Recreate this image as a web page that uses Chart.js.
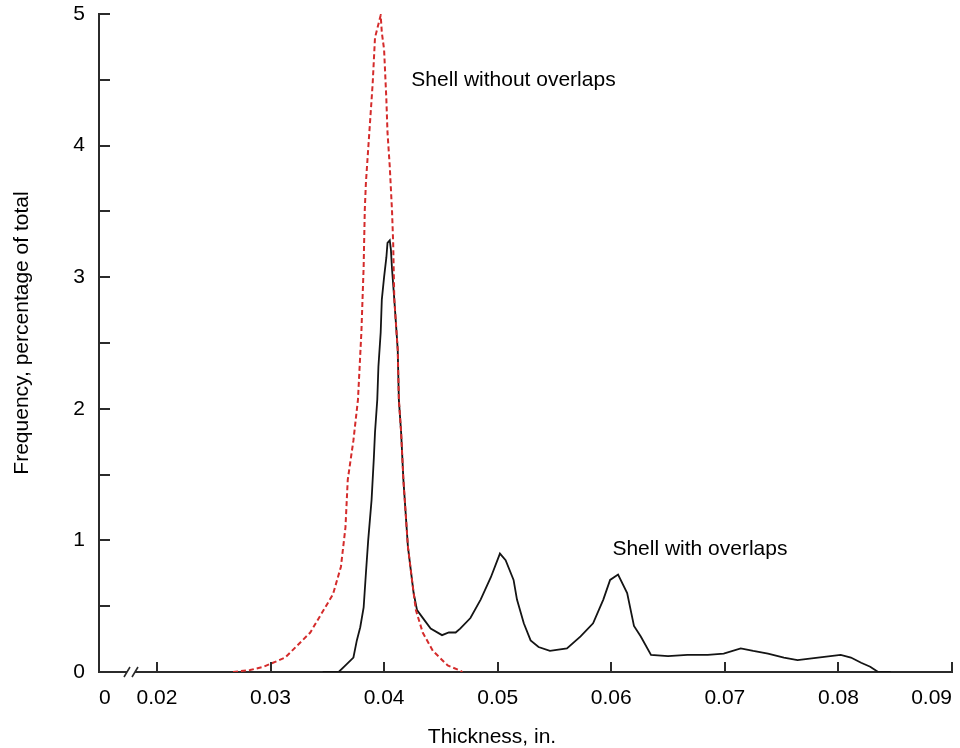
<!DOCTYPE html>
<html>
<head>
<meta charset="utf-8">
<title>Shell thickness frequency</title>
<script src="https://cdn.jsdelivr.net/npm/chart.js@4.4.1/dist/chart.umd.min.js"></script>
<style>
    body { margin: 0; background: #fff; }
    canvas { display: block; }
</style>
</head>
<body>
<canvas id="myChart" width="960" height="748"></canvas>
<script>
// shell without overlaps (red dashed)
const thicknessNoOverlap = [0.0267, 0.0282, 0.0294, 0.0313, 0.0335, 0.0355, 0.0362, 0.0366, 0.0368, 0.0373, 0.0377, 0.0380, 0.0382, 0.0383, 0.0384, 0.0387, 0.0389, 0.0390, 0.0392, 0.0397, 0.0398, 0.0400, 0.0402, 0.0403, 0.0405, 0.0407, 0.0408, 0.0409, 0.0412, 0.0413, 0.0415, 0.0417, 0.0421, 0.0426, 0.0428, 0.0434, 0.0443, 0.0456, 0.0467, 0.0469];
const freqNoOverlap = [0, 0.015, 0.04, 0.11, 0.30, 0.59, 0.80, 1.10, 1.46, 1.76, 2.07, 2.58, 3.08, 3.51, 3.72, 4.10, 4.35, 4.48, 4.82, 4.99, 4.86, 4.73, 4.35, 4.10, 3.84, 3.50, 3.26, 2.83, 2.45, 2.07, 1.82, 1.46, 0.95, 0.60, 0.47, 0.30, 0.16, 0.05, 0.01, 0];

// shell with overlaps (black solid)
const thicknessOverlap = [0.0346, 0.0360, 0.0366, 0.0373, 0.0376, 0.0379, 0.0382, 0.0384, 0.0386, 0.0389, 0.0391, 0.0392, 0.0394, 0.0395, 0.0397, 0.0398, 0.0400, 0.0402, 0.0403, 0.0405, 0.0406, 0.0407, 0.0409, 0.0412, 0.0413, 0.0415, 0.0417, 0.0421, 0.0426, 0.0429, 0.0435, 0.0441, 0.0451, 0.0457, 0.0463, 0.0467, 0.0476, 0.0485, 0.0494, 0.0502, 0.0507, 0.0514, 0.0517, 0.0523, 0.0529, 0.0536, 0.0546, 0.0561, 0.0573, 0.0584, 0.0593, 0.0599, 0.0606, 0.0614, 0.0620, 0.0626, 0.0635, 0.0650, 0.0667, 0.0685, 0.0699, 0.0714, 0.0725, 0.0738, 0.0752, 0.0764, 0.0782, 0.0802, 0.0811, 0.0820, 0.0828, 0.0835, 0.0846];
const freqOverlap = [0, 0, 0.05, 0.11, 0.24, 0.34, 0.49, 0.75, 1.00, 1.31, 1.63, 1.82, 2.07, 2.32, 2.58, 2.83, 3.00, 3.15, 3.26, 3.28, 3.21, 3.06, 2.83, 2.45, 2.07, 1.82, 1.46, 0.95, 0.60, 0.47, 0.40, 0.33, 0.28, 0.30, 0.30, 0.33, 0.41, 0.55, 0.72, 0.90, 0.85, 0.70, 0.55, 0.37, 0.24, 0.19, 0.16, 0.18, 0.27, 0.37, 0.55, 0.70, 0.74, 0.60, 0.35, 0.27, 0.13, 0.12, 0.13, 0.13, 0.14, 0.18, 0.16, 0.14, 0.11, 0.09, 0.11, 0.13, 0.11, 0.07, 0.04, 0, 0];

// axis ticks (x axis is broken between 0 and 0.02)
const xAxisStart = 0.0149;
const xTickValues = [0.0149, 0.02, 0.03, 0.04, 0.05, 0.06, 0.07, 0.08, 0.09];
const xTickLabels = ["0", "0.02", "0.03", "0.04", "0.05", "0.06", "0.07", "0.08", "0.09"];
const yTickValues = [0, 0.5, 1, 1.5, 2, 2.5, 3, 3.5, 4, 4.5, 5];
const yTickLabels = ["0", "", "1", "", "2", "", "3", "", "4", "", "5"];

const xTitle = "Thickness, in.";
const yTitle = "Frequency, percentage of total";
const labelNoOverlap = "Shell without overlaps";
const labelOverlap = "Shell with overlaps";

function toPoints(xs, ys) {
    return xs.map(function (x, i) {
        return { x: x, y: ys[i] };
    });
}

const FONT = "Liberation Sans, Arial, Helvetica, sans-serif";
const AXIS_COLOR = "#2b2b2b";
const TEXT_COLOR = "#000000";

//inward ticks, axis break, titles and curve labels
const decorations = {
    id: "decorations",
    afterDraw: function (chart) {
        const c = chart.ctx;
        const xs = chart.scales.x;
        const ys = chart.scales.y;
        const area = chart.chartArea;
        c.save();
        c.strokeStyle = AXIS_COLOR;
        c.lineWidth = 2;
        c.beginPath();
        xTickValues.forEach(function (v) {
            if (v === xAxisStart) return;
            const px = Math.round(xs.getPixelForValue(v));
            c.moveTo(px, area.bottom);
            c.lineTo(px, area.bottom - 10);
        });
        yTickValues.forEach(function (v) {
            if (v === 0) return;
            const py = Math.round(ys.getPixelForValue(v));
            c.moveTo(area.left, py);
            c.lineTo(area.left + 11, py);
        });
        c.stroke();

        // break marks
        const bx = area.left + 31;
        const by = area.bottom;
        c.fillStyle = "#ffffff";
        c.fillRect(bx - 3, by - 3, 8, 6);
        c.lineWidth = 1.6;
        c.beginPath();
        c.moveTo(bx - 6, by + 5);
        c.lineTo(bx, by - 5);
        c.moveTo(bx + 2, by + 5);
        c.lineTo(bx + 8, by - 5);
        c.stroke();

        c.fillStyle = TEXT_COLOR;
        c.font = "21px " + FONT;
        c.textBaseline = "middle";
        c.textAlign = "left";
        c.fillText(labelNoOverlap, xs.getPixelForValue(0.0424), ys.getPixelForValue(4.5));
        c.fillText(labelOverlap, xs.getPixelForValue(0.0601), ys.getPixelForValue(0.935));

        c.textAlign = "center";
        c.fillText(xTitle, 492, 737);
        c.translate(22, 333);
        c.rotate(-Math.PI / 2);
        c.fillText(yTitle, 0, 0);
        c.restore();
    },
};

//chart start
const ctx = document.getElementById("myChart");
new Chart(ctx, {
    type: "line",
    data: {
        datasets: [
            {
                label: labelNoOverlap,
                data: toPoints(thicknessNoOverlap, freqNoOverlap),
                borderColor: "#d42b2b",
                borderWidth: 2,
                borderDash: [5, 3],
                pointRadius: 0,
                tension: 0,
                fill: false,
            },
            {
                label: labelOverlap,
                data: toPoints(thicknessOverlap, freqOverlap),
                borderColor: "#141414",
                borderWidth: 1.8,
                pointRadius: 0,
                tension: 0,
                fill: false,
            },
        ],
    },
    options: {
        responsive: false,
        animation: false,
        layout: {
            padding: { top: 14, right: 8, bottom: 0, left: 0 },
        },
        plugins: {
            legend: { display: false },
            tooltip: { enabled: false },
        },
        scales: {
            x: {
                type: "linear",
                min: xAxisStart,
                max: 0.09,
                afterBuildTicks: function (scale) {
                    scale.ticks = xTickValues.map(function (v) {
                        return { value: v };
                    });
                },
                afterFit: function (scale) {
                    scale.height = 76;
                    scale.paddingLeft = 0;
                    scale.paddingRight = 0;
                },
                ticks: {
                    autoSkip: false,
                    maxRotation: 0,
                    align: "inner",
                    padding: 14,
                    color: TEXT_COLOR,
                    font: { family: FONT, size: 21 },
                    callback: function (value, index) {
                        return xTickLabels[index];
                    },
                },
                grid: { display: false, drawTicks: false },
                border: { display: true, color: AXIS_COLOR, width: 2 },
            },
            y: {
                min: 0,
                max: 5,
                afterBuildTicks: function (scale) {
                    scale.ticks = yTickValues.map(function (v) {
                        return { value: v };
                    });
                },
                afterFit: function (scale) {
                    scale.width = 99;
                    scale.paddingTop = 0;
                    scale.paddingBottom = 0;
                },
                ticks: {
                    autoSkip: false,
                    padding: 14,
                    color: TEXT_COLOR,
                    font: { family: FONT, size: 21 },
                    callback: function (value, index) {
                        return yTickLabels[index];
                    },
                },
                grid: { display: false, drawTicks: false },
                border: { display: true, color: AXIS_COLOR, width: 2 },
            },
        },
    },
    plugins: [decorations],
});
</script>
</body>
</html>
